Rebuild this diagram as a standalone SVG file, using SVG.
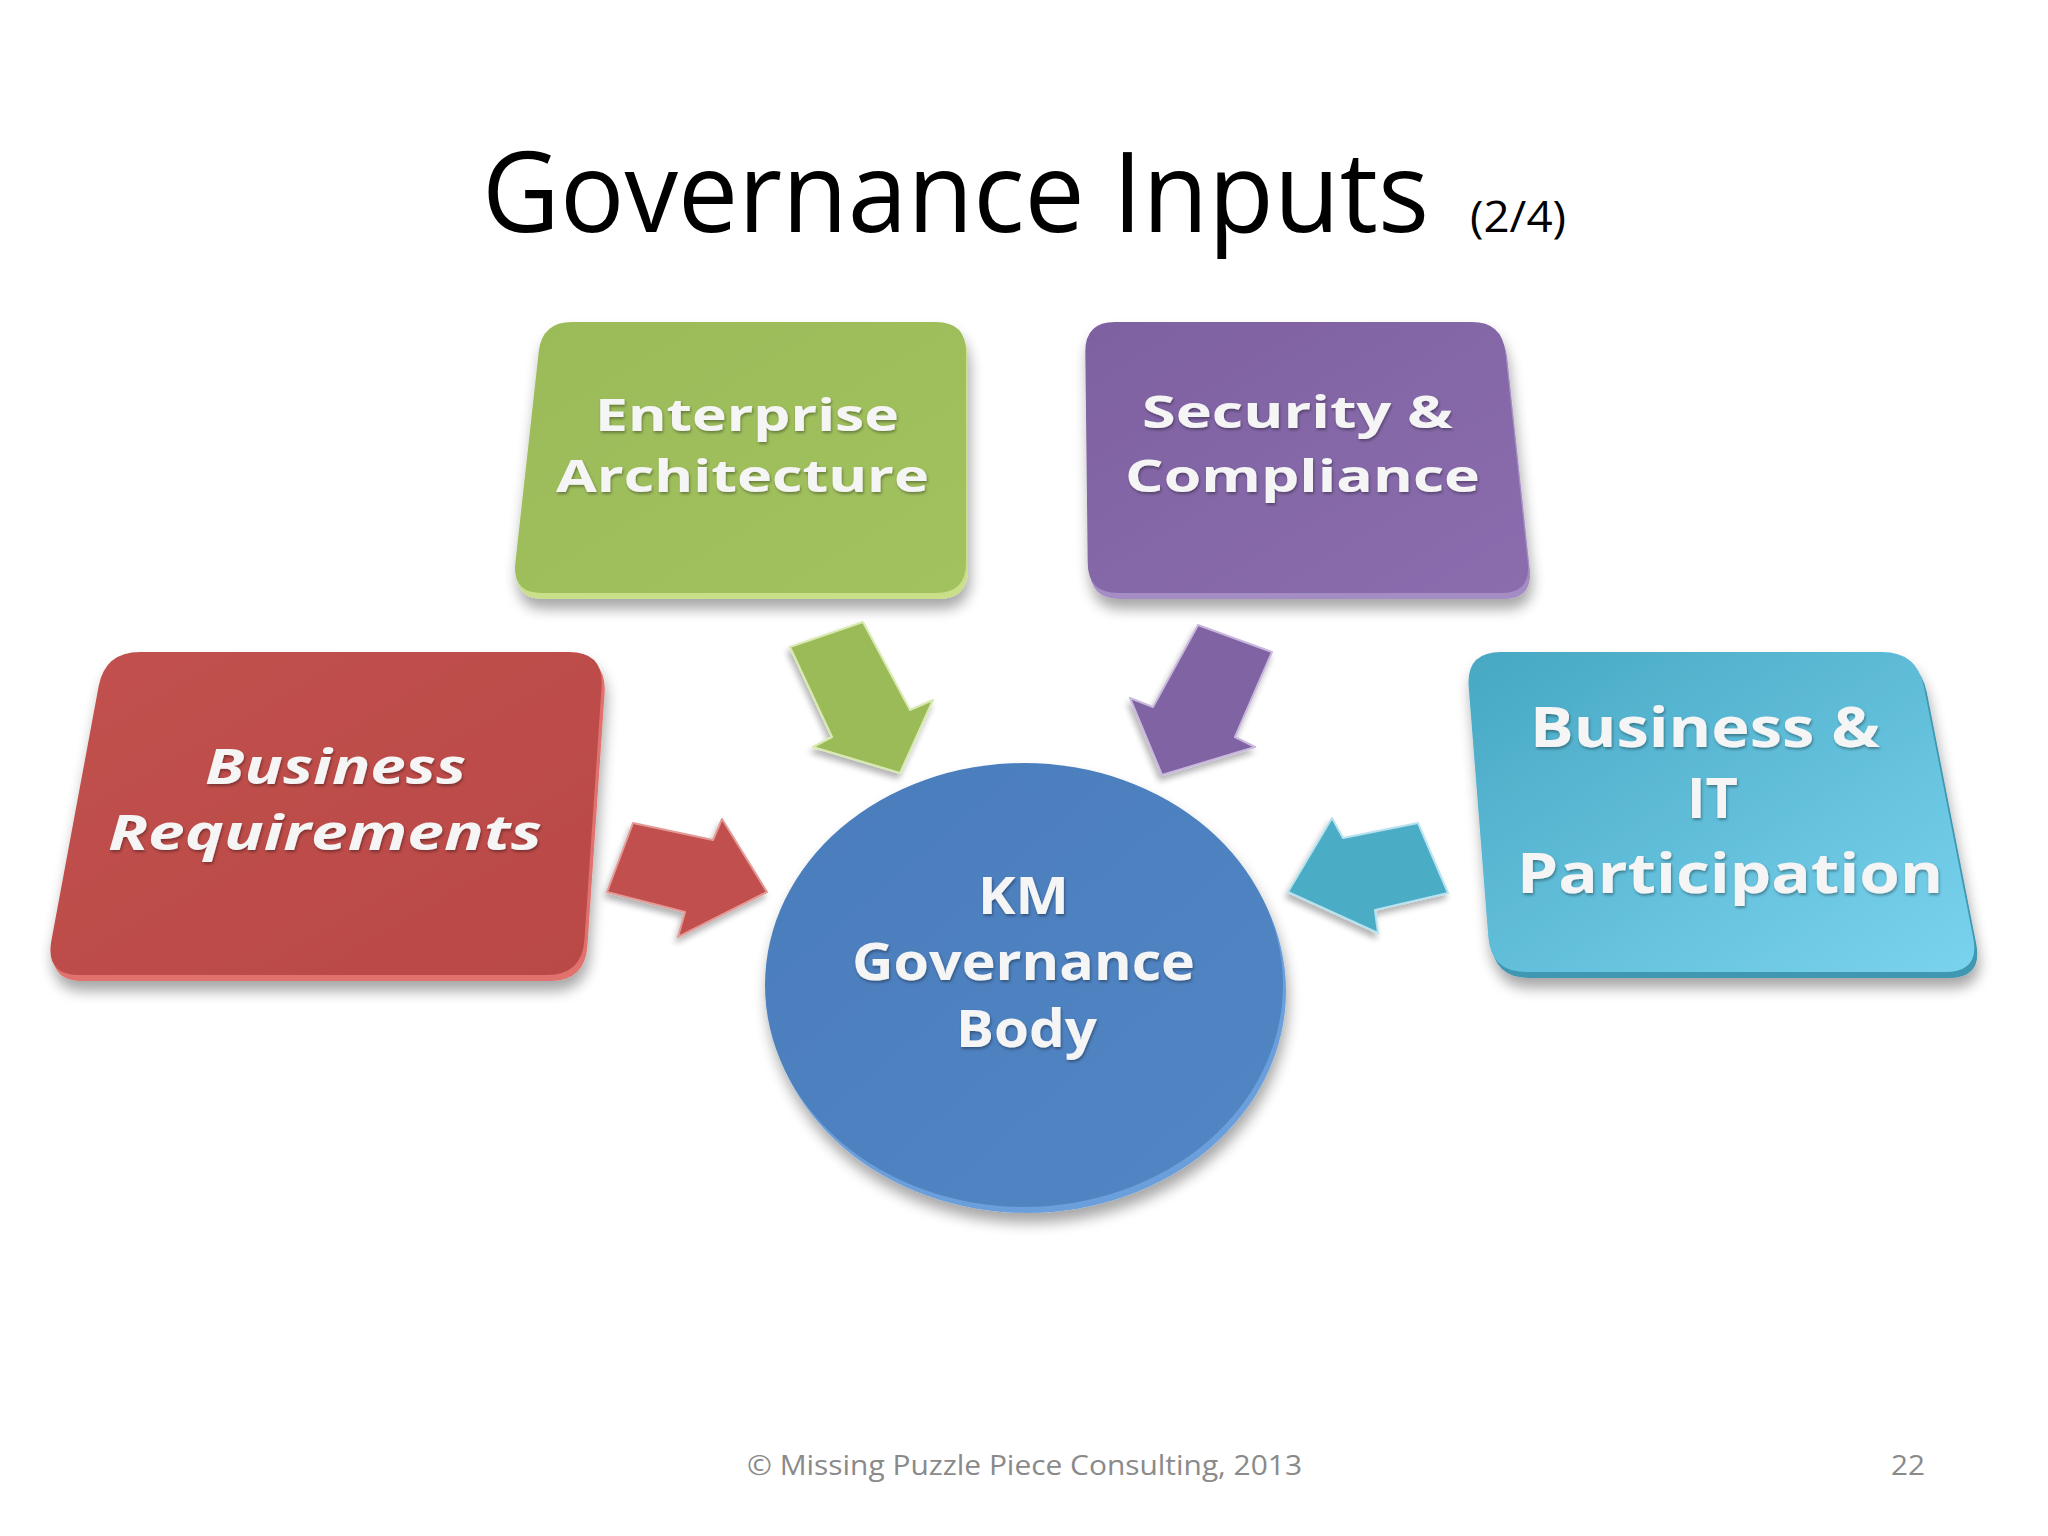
<svg xmlns="http://www.w3.org/2000/svg" width="2048" height="1536" viewBox="0 0 2048 1536">
<defs>
<filter id="shadow" x="-20%" y="-20%" width="140%" height="150%">
<feGaussianBlur in="SourceAlpha" stdDeviation="7"/>
<feOffset dx="2" dy="10" result="b"/>
<feComponentTransfer><feFuncA type="linear" slope="0.35"/></feComponentTransfer>
<feMerge><feMergeNode/><feMergeNode in="SourceGraphic"/></feMerge>
</filter>
<filter id="ashadow" x="-30%" y="-30%" width="160%" height="160%">
<feGaussianBlur in="SourceAlpha" stdDeviation="3"/>
<feOffset dx="-2" dy="5" result="b"/>
<feComponentTransfer><feFuncA type="linear" slope="0.3"/></feComponentTransfer>
<feMerge><feMergeNode/><feMergeNode in="SourceGraphic"/></feMerge>
</filter>
<filter id="tshadow" x="-10%" y="-30%" width="120%" height="160%">
<feGaussianBlur in="SourceAlpha" stdDeviation="1.5"/>
<feOffset dx="1" dy="2" result="b"/>
<feComponentTransfer><feFuncA type="linear" slope="0.35"/></feComponentTransfer>
<feMerge><feMergeNode/><feMergeNode in="SourceGraphic"/></feMerge>
</filter>
<linearGradient id="gRed" x1="0" y1="0" x2="1" y2="1"><stop offset="0" stop-color="#c1514e"/><stop offset="1" stop-color="#b94845"/></linearGradient>
<linearGradient id="gGreen" x1="0" y1="0" x2="1" y2="1"><stop offset="0" stop-color="#9bbb59"/><stop offset="1" stop-color="#a2c25f"/></linearGradient>
<linearGradient id="gPurple" x1="0" y1="0" x2="1" y2="1"><stop offset="0" stop-color="#7e61a0"/><stop offset="1" stop-color="#8b6dae"/></linearGradient>
<linearGradient id="gCyan" x1="0" y1="0" x2="1" y2="1"><stop offset="0" stop-color="#47a8c4"/><stop offset="1" stop-color="#7ad3ee"/></linearGradient>
<linearGradient id="gBlue" x1="0" y1="0" x2="1" y2="1"><stop offset="0" stop-color="#4a7cbb"/><stop offset="1" stop-color="#5286c4"/></linearGradient>
<style>
.lbl{font-family:"Open Sans","Liberation Sans",sans-serif;font-weight:bold;fill:#f5f5f5;}
.it{font-style:italic;}
.title{font-family:"Open Sans","Liberation Sans",sans-serif;fill:#000;}
.foot{font-family:"Open Sans","Liberation Sans",sans-serif;font-size:28px;fill:#8a8a8a;}
</style>
</defs>
<rect width="2048" height="1536" fill="#ffffff"/>

<text class="title" x="482" y="232" font-size="112" textLength="947" lengthAdjust="spacingAndGlyphs">Governance Inputs</text>
<text class="title" x="1470" y="232" font-size="44" textLength="96" lengthAdjust="spacingAndGlyphs">(2/4)</text>

<g id="node-business-requirements">
<g filter="url(#shadow)">
<path transform="translate(3,6)" fill="#e0716c" d="M140,652 L569,652 Q604,652 601.6,687 L584.4,940 Q582,975 547,975 L80,975 Q45,975 51.4,940.6 L98.6,686.4 Q105,652 140,652 Z"/>
<path fill="url(#gRed)" d="M140,652 L569,652 Q604,652 601.6,687 L584.4,940 Q582,975 547,975 L80,975 Q45,975 51.4,940.6 L98.6,686.4 Q105,652 140,652 Z"/>
</g>
<g filter="url(#tshadow)">
<text class="lbl it" x="205" y="784" font-size="48" textLength="261" lengthAdjust="spacingAndGlyphs">Business</text>
<text class="lbl it" x="108" y="850" font-size="48" textLength="434" lengthAdjust="spacingAndGlyphs">Requirements</text>
</g>
</g>

<g id="node-enterprise-architecture">
<g filter="url(#shadow)">
<path transform="translate(2,6)" fill="#c9df8a" d="M572,322 L936,322 Q966,322 966,352 L966,563 Q966,593 936,593 L542,593 Q512,593 515.3,563.2 L538.7,351.8 Q542,322 572,322 Z"/>
<path fill="url(#gGreen)" d="M572,322 L936,322 Q966,322 966,352 L966,563 Q966,593 936,593 L542,593 Q512,593 515.3,563.2 L538.7,351.8 Q542,322 572,322 Z"/>
</g>
<g filter="url(#tshadow)">
<text class="lbl" x="595" y="431" font-size="45" textLength="304" lengthAdjust="spacingAndGlyphs">Enterprise</text>
<text class="lbl" x="556" y="492" font-size="45" textLength="373" lengthAdjust="spacingAndGlyphs">Architecture</text>
</g>
</g>

<g id="node-security-compliance">
<g filter="url(#shadow)">
<path transform="translate(2,6)" fill="#a48cc4" d="M1115,322 L1472,322 Q1502,322 1505.2,351.8 L1527.8,563.2 Q1531,593 1501,593 L1118,593 Q1088,593 1087.7,563 L1085.3,352 Q1085,322 1115,322 Z"/>
<path fill="url(#gPurple)" d="M1115,322 L1472,322 Q1502,322 1505.2,351.8 L1527.8,563.2 Q1531,593 1501,593 L1118,593 Q1088,593 1087.7,563 L1085.3,352 Q1085,322 1115,322 Z"/>
</g>
<g filter="url(#tshadow)">
<text class="lbl" x="1142" y="428" font-size="45" textLength="311" lengthAdjust="spacingAndGlyphs">Security &amp;</text>
<text class="lbl" x="1125" y="492" font-size="45" textLength="355" lengthAdjust="spacingAndGlyphs">Compliance</text>
</g>
</g>

<g id="node-business-it-participation">
<g filter="url(#shadow)">
<path transform="translate(3,6)" fill="#3f97b2" d="M1501,652 L1882,652 Q1917,652 1923.8,686.3 L1973.2,937.7 Q1980,972 1945,972 L1526,972 Q1491,972 1488.3,937.1 L1468.7,686.9 Q1466,652 1501,652 Z"/>
<path fill="url(#gCyan)" d="M1501,652 L1882,652 Q1917,652 1923.8,686.3 L1973.2,937.7 Q1980,972 1945,972 L1526,972 Q1491,972 1488.3,937.1 L1468.7,686.9 Q1466,652 1501,652 Z"/>
</g>
<g filter="url(#tshadow)">
<text class="lbl" x="1530" y="747" font-size="55" textLength="350" lengthAdjust="spacingAndGlyphs">Business &amp;</text>
<text class="lbl" x="1687" y="818" font-size="55" textLength="51" lengthAdjust="spacingAndGlyphs">IT</text>
<text class="lbl" x="1517" y="893" font-size="55" textLength="426" lengthAdjust="spacingAndGlyphs">Participation</text>
</g>
</g>

<g id="node-km-governance-body">
<g filter="url(#shadow)">
<ellipse cx="1027" cy="991" rx="259" ry="222" fill="#6b9fdc"/>
<ellipse cx="1024" cy="985" rx="259" ry="222" fill="url(#gBlue)"/>
</g>
<g filter="url(#tshadow)">
<text class="lbl" x="978" y="914" font-size="52" textLength="91" lengthAdjust="spacingAndGlyphs">KM</text>
<text class="lbl" x="852" y="980" font-size="52" textLength="343" lengthAdjust="spacingAndGlyphs">Governance</text>
<text class="lbl" x="956" y="1047" font-size="52" textLength="141" lengthAdjust="spacingAndGlyphs">Body</text>
</g>
</g>

<g id="connectors">
<g filter="url(#ashadow)">
<polygon fill="#c0504d" stroke="#e39a96" stroke-width="2" stroke-linejoin="round" points="633,823 713,840 722,819 767,892 678,937 685,912 607,892"/>
<polygon fill="#9bbb59" stroke="#d8eab0" stroke-width="2" stroke-linejoin="round" points="790,647 863,622 910,710 933,700 900,773 813,747 832,737"/>
<polygon fill="#8064a2" stroke="#c9b8de" stroke-width="2" stroke-linejoin="round" points="1198,625 1272,652 1235,737 1255,747 1162,775 1130,698 1153,707"/>
<polygon fill="#4bacc6" stroke="#b7e2ee" stroke-width="2" stroke-linejoin="round" points="1332,818 1343,838 1418,823 1448,893 1375,910 1378,933 1288,892"/>
</g>
</g>

<text class="foot" x="747" y="1475" textLength="555" lengthAdjust="spacingAndGlyphs">© Missing Puzzle Piece Consulting, 2013</text>
<text class="foot" x="1891" y="1475" textLength="34" lengthAdjust="spacingAndGlyphs">22</text>
</svg>
